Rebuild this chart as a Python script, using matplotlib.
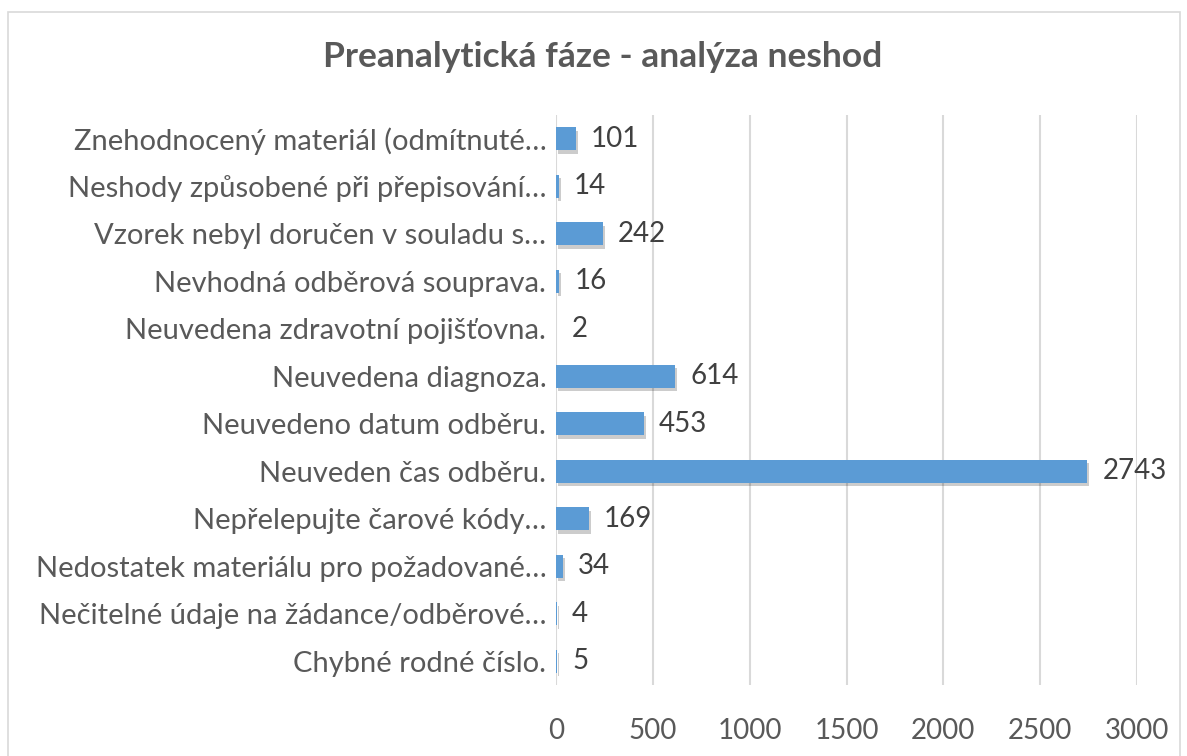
import matplotlib.pyplot as plt
from matplotlib import patheffects as pe
from matplotlib.patches import Rectangle

plt.rcParams['font.family'] = ['Lato', 'DejaVu Sans']

# categories listed bottom to top (as Excel draws them)
categories = [
    'Chybné rodné číslo.',
    'Nečitelné údaje na žádance/odběrové…',
    'Nedostatek materiálu pro požadované…',
    'Nepřelepujte čarové kódy…',
    'Neuveden čas odběru.',
    'Neuvedeno datum odběru.',
    'Neuvedena diagnoza.',
    'Neuvedena zdravotní pojišťovna.',
    'Nevhodná odběrová souprava.',
    'Vzorek nebyl doručen v souladu s…',
    'Neshody způsobené při přepisování…',
    'Znehodnocený materiál (odmítnuté…',
]
counts = [5, 4, 34, 169, 2743, 453, 614, 2, 16, 242, 14, 101]
x_ticks = [0, 500, 1000, 1500, 2000, 2500, 3000]

grey_text = '#595959'
dark_text = '#404040'

fig = plt.figure(figsize=(11.87, 7.56), dpi=100)
ax = fig.add_axes([0.4684, 0.0939, 0.4895, 0.754])

# chart border
fig.patches.append(Rectangle((8 / 1187, -0.05), 1172 / 1187, 1.05 - 12 / 756,
                             transform=fig.transFigure, fill=False,
                             edgecolor='#D9D9D9', linewidth=1.2))

ypos = list(range(len(categories)))
bars = ax.barh(ypos, counts, height=0.48, color='#5B9BD5', zorder=3)
for b in bars:
    b.set_path_effects([pe.SimplePatchShadow(offset=(1.5, -2.5), shadow_rgbFace='#000000', alpha=0.2),
                        pe.Normal()])

for y, v in zip(ypos, counts):
    ax.annotate(str(v), (v, y), xytext=(11, 0), textcoords='offset points',
                va='center', ha='left', fontsize=20, color=dark_text)

ax.set_xlim(0, 3000)
ax.set_ylim(-0.5, len(categories) - 0.5)
ax.set_xticks(x_ticks)
ax.set_yticks(ypos)
ax.set_yticklabels(categories)
ax.tick_params(axis='y', length=0, pad=7, labelsize=21, labelcolor=grey_text)
ax.tick_params(axis='x', length=0, pad=24, labelsize=20, labelcolor=grey_text)
ax.grid(axis='x', color='#D9D9D9', linewidth=1.5, zorder=0)
for s in ax.spines.values():
    s.set_visible(False)

fig.text(0.508, 0.925, 'Preanalytická fáze - analýza neshod', ha='center', va='center',
         fontsize=25.5, fontweight='bold', color=grey_text)

fig.savefig('out.png', dpi=100)
